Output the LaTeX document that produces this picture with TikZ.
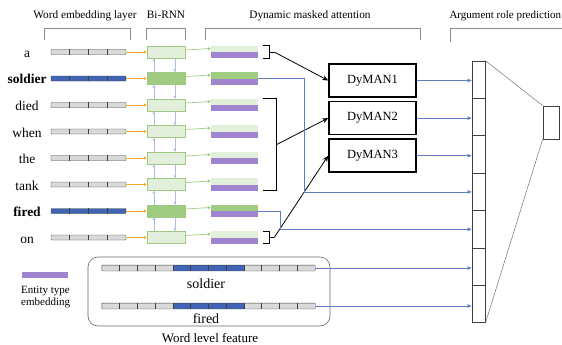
\documentclass[tikz,border=0pt]{standalone}
\usepackage{fontspec}
\setmainfont{Liberation Serif}
\usepackage{tikz}
\usetikzlibrary{arrows.meta,positioning,calc}
\definecolor{embgray}{RGB}{217,217,217}
\definecolor{embblue}{RGB}{66,100,180}
\definecolor{feedorg}{RGB}{242,170,40}
\definecolor{rnnlite}{RGB}{226,239,218}
\definecolor{rnndark}{RGB}{160,204,130}
\definecolor{rnnedge}{RGB}{160,200,130}
\definecolor{recblue}{RGB}{170,190,228}
\definecolor{entpurp}{RGB}{160,132,208}
\definecolor{outblue}{RGB}{95,125,195}

\begin{document}
\begin{tikzpicture}[x=1pt, y=-1pt, font=\rmfamily,
  hdr/.style={font=\rmfamily\fontsize{11.3}{12}\selectfont, anchor=base},
  hbrk/.style={draw=black!45, line width=0.5pt},
  wordlbl/.style={font=\rmfamily\fontsize{13.5}{15}\selectfont, anchor=base},
  embbar/.style={draw=black!75, fill=#1, minimum width=75pt, minimum height=5pt, inner sep=0pt, rounded corners=0.6pt},
  rnnbox/.style={draw=rnnedge, fill=#1, minimum width=38pt, minimum height=12pt, inner sep=0pt},
  attbar/.style={minimum width=47pt, minimum height=12pt, inner sep=0pt},
  dyman/.style={draw, line width=1.6pt, minimum width=87pt, minimum height=33pt, font=\rmfamily\fontsize{12.5}{14}\selectfont},
  cell/.style={draw=black!75, line width=0.8pt, minimum width=13pt, minimum height=37.4pt, inner sep=0pt},
  feed/.style={draw=feedorg, line width=0.8pt, -{Triangle[length=3pt,width=3pt]}},
  recur/.style={draw=recblue, line width=0.8pt, -{Triangle[length=3pt,width=3pt]}},
  gofwd/.style={draw=rnndark, line width=0.7pt, -{Triangle[length=3pt,width=3pt]}},
  feat/.style={draw=outblue, line width=0.6pt, -{Triangle[length=4pt,width=3.5pt]}},
  pick/.style={black, line width=0.8pt, -{Stealth[length=6pt,width=5pt]}},
  brk/.style={black, line width=0.8pt},
  featlbl/.style={font=\rmfamily\fontsize{14}{16}\selectfont, anchor=base}]
\useasboundingbox (0,0) rectangle (562,345);

\node[hdr] (h1) at (85,18.5) {Word embedding layer};
\node[hdr] (h2) at (166,18.5) {Bi-RNN};
\node[hdr] (h3) at (310,18.5) {Dynamic masked attention};
\node[hdr, anchor=base west, font=\rmfamily\fontsize{11}{12}\selectfont] (h4) at (446,18.5) {Argument role prediction};
\draw[hbrk] (44,40) |- (130,28) -- (130,40);
\draw[hbrk] (146,40) |- (185,28) -- (185,40);
\draw[hbrk] (205,40) |- (420,28) -- (420,40);
\draw[hbrk] (450,42) |- (570,28);

\foreach \w/\i/\ec/\rc in {a/0/embgray/rnnlite, {\textbf{soldier}}/1/embblue/rnndark,
    died/2/embgray/rnnlite, when/3/embgray/rnnlite, the/4/embgray/rnnlite,
    tank/5/embgray/rnnlite, {\textbf{fired}}/6/embblue/rnndark, on/7/embgray/rnnlite}{
  \node[wordlbl] (w\i) at (27,57.5+26.5*\i) {\w};
  \node[embbar=\ec] (emb\i) at (88.5,52+26.5*\i) {};
  \foreach \k in {1,2,3}
    \draw[black!75] ([xshift=\k*18.75pt]emb\i.south west) -- ([xshift=\k*18.75pt]emb\i.north west);
  \node[rnnbox=\rc] (rnn\i) at (166,52+26.5*\i) {};
  \node[attbar] (att\i) at (234.5,52+26.5*\i) {};
  \fill[\rc] (att\i.north west) rectangle (att\i.east);
  \fill[entpurp] (att\i.west) rectangle (att\i.south east);
  \draw[feed] (emb\i) -- (rnn\i);
  \draw[gofwd] ([yshift=2pt]rnn\i.east) -- ([yshift=3.5pt]att\i.west);
}

\foreach \i in {0,...,6}{
  \pgfmathtruncatemacro\j{\i+1}
  \draw[recur] ([xshift=-12pt]rnn\j.north) -- ([xshift=-12pt]rnn\i.south);
  \draw[recur] ([xshift=9pt]rnn\i.south) -- ([xshift=9pt]rnn\j.north);
}

\draw[brk] ([xshift=5pt]att0.north east) -| ([xshift=11pt]att0.south east) -- ([xshift=5pt]att0.south east);
\draw[brk] ([xshift=11pt]att0.east) -- ([xshift=16pt]att0.east) coordinate (tipA);
\draw[brk] ([xshift=5pt]att2.north east) -| ([xshift=18pt]att5.south east) -- ([xshift=5pt]att5.south east);
\coordinate (tipB) at ($(att2.north east)!.5!(att5.south east)+(18,0)$);
\draw[brk] ([xshift=5pt]att7.north east) -| ([xshift=11pt]att7.south east) -- ([xshift=5pt]att7.south east);
\draw[brk] ([xshift=11pt]att7.east) -- ([xshift=16pt]att7.east) coordinate (tipC);

\node[dyman] (dyman1) at (372.5,80.5) {DyMAN1};
\node[dyman, below=3pt of dyman1] (dyman2) {DyMAN2};
\node[dyman, below=3pt of dyman2] (dyman3) {DyMAN3};
\draw[pick] (tipA) -- (dyman1.west);
\draw[pick] (tipB) -- (dyman2.west);
\draw[pick] (tipC) -- (dyman3.west);

\foreach \k in {1,...,7}
  \node[cell] (col\k) at (478.5,61+37.4*\k-18.7) {};
\node[draw=black!75, line width=0.8pt, minimum width=16pt, minimum height=33pt, inner sep=0pt] (outp) at (551,122.5) {};
\draw[black!55, line width=0.5pt] (col1.north east) -- (outp.north west);
\draw[black!55, line width=0.5pt] (col7.south east) -- (outp.south west);

\foreach \k in {1,2,3}
  \draw[feat] (dyman\k.east) -- (dyman\k.east -| col\k.west);
\draw[feat] (att1.east) -- ++(46,0) |- (col4.west);
\draw[feat] (att6.east) -- ++(22,0) |- (col5.west);

\node[fill=entpurp, minimum width=46pt, minimum height=6pt, inner sep=0pt] (legbar) at (45,275) {};
\node[anchor=north west, align=left, inner sep=0pt, font=\rmfamily\fontsize{11}{12.5}\selectfont] (legtxt) at (21,286) {Entity type\\embedding};

\node[draw=black!60, line width=0.6pt, rounded corners=10pt, minimum width=242pt, minimum height=69pt] (wlf) at (209,291.5) {};
\foreach \f/\y in {fsol/268, ffir/306}{
  \node[fill=embgray, minimum width=213pt, minimum height=5.5pt, inner sep=0pt] (\f) at (208.5,\y) {};
  \fill[embblue] ([xshift=71pt]\f.south west) rectangle ([xshift=142pt]\f.north west);
  \foreach \k in {1,...,11}
    \draw[black!75] ([xshift=\k*17.75pt]\f.south west) -- ([xshift=\k*17.75pt]\f.north west);
  \draw[black!75, rounded corners=0.6pt] (\f.south west) rectangle (\f.north east);
}
\draw[feat] (fsol.east) -- (fsol.east -| col6.west);
\draw[feat] (ffir.east) -- (ffir.east -| col7.west);
\node[featlbl] (lsol) at (206,288) {soldier};
\node[featlbl] (lfir) at (206,323) {fired};
\node[featlbl, font=\rmfamily\fontsize{13}{15}\selectfont] (lwlf) at (210,342) {Word level feature};
\end{tikzpicture}
\end{document}
